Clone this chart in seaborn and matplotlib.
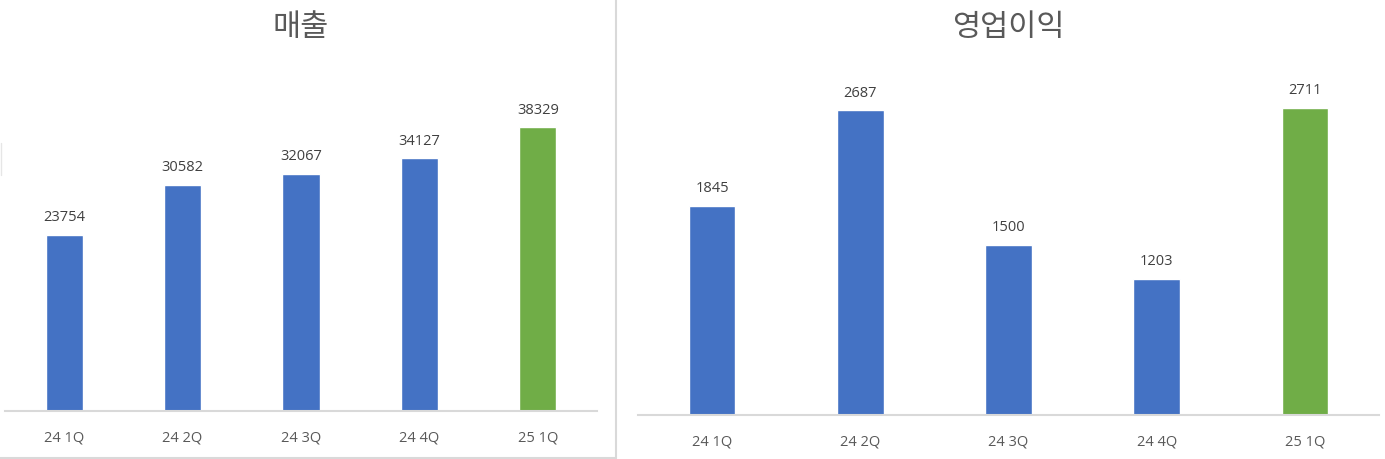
import matplotlib
matplotlib.use("Agg")
import matplotlib.pyplot as plt
from matplotlib.lines import Line2D
import seaborn as sns

# data
quarters = ["24 1Q", "24 2Q", "24 3Q", "24 4Q", "25 1Q"]
sales = [23754, 30582, 32067, 34127, 38329]
op_profit = [1845, 2687, 1500, 1203, 2711]
bar_colors = ["#4472C4", "#4472C4", "#4472C4", "#4472C4", "#70AD47"]

sns.set_style("white")
plt.rcParams["font.family"] = ["Open Sans", "Noto Sans CJK KR", "DejaVu Sans"]

fig = plt.figure(figsize=(13.85, 4.59), dpi=100)
ax1 = fig.add_axes([5 / 1385, 1 - 411 / 459, 592 / 1385, 333 / 459])
ax2 = fig.add_axes([638 / 1385, 1 - 415 / 459, 741 / 1385, 340 / 459])

panels = [(ax1, sales, 45000, "매출", 301), (ax2, op_profit, 3000, "영업이익", 1008)]
for ax, vals, ymax, title, tx in panels:
    sns.barplot(x=quarters, y=vals, hue=quarters, palette=bar_colors,
                legend=False, width=0.315, saturation=1, ax=ax)
    for c in ax.containers:
        ax.bar_label(c, fmt="%d", padding=7, fontsize=10.5, color="#404040")
    ax.set_ylim(0, ymax)
    ax.set_xlim(-0.5, 4.5)
    ax.set_yticks([])
    ax.tick_params(axis="x", length=0, pad=14, labelsize=10.5, labelcolor="#595959")
    for s in ["top", "left", "right"]:
        ax.spines[s].set_visible(False)
    ax.spines["bottom"].set_color("#D9D9D9")
    ax.spines["bottom"].set_linewidth(1.5)
    ax.set_xlabel("")
    ax.set_ylabel("")
    ax.patch.set_alpha(0)
    fig.text(tx / 1385, 1 - 28 / 459, title, ha="center", va="center",
             fontsize=22, color="#595959", family=["Noto Sans CJK KR", "DejaVu Sans"])

# frame of the left chart (right and bottom edges) and small edge mark
edge = "#D9D9D9"
fig.add_artist(Line2D([616 / 1385, 616 / 1385], [1, 1.5 / 459], color=edge, lw=1.5))
fig.add_artist(Line2D([0, 616 / 1385], [1.5 / 459, 1.5 / 459], color=edge, lw=1.5))
fig.add_artist(Line2D([0.5 / 1385, 0.5 / 1385], [1 - 143 / 459, 1 - 175 / 459], color="#E6E6E6", lw=1))

fig.savefig("out.png", dpi=100)
